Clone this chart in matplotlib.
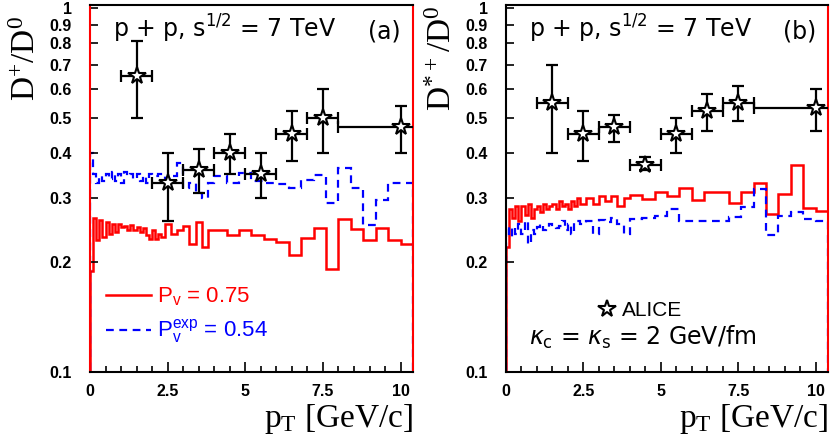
import numpy as np
import matplotlib
matplotlib.use('Agg')
import matplotlib.pyplot as plt
from matplotlib.ticker import FixedLocator, NullLocator, MultipleLocator
from matplotlib.lines import Line2D

plt.rcParams['font.family'] = ['Liberation Sans', 'DejaVu Sans']
plt.rcParams['mathtext.default'] = 'regular'

# histogram bin edges (GeV/c): fine at low pT, coarser above
edges = np.round(np.concatenate([np.arange(0, 2.4, 0.1),
                                 np.arange(2.4, 4.0, 0.2),
                                 np.arange(4.0, 10.45, 0.4)]), 2)

# model curves, D+/D0
dplus_pv = [0.19, 0.265, 0.23, 0.262, 0.235, 0.258, 0.24, 0.255, 0.242, 0.255, 0.25, 0.252,
            0.245, 0.253, 0.245, 0.25, 0.243, 0.248, 0.238, 0.232, 0.245, 0.232, 0.24, 0.235,
            0.255, 0.24, 0.245, 0.252, 0.225, 0.258, 0.22, 0.245,
            0.2455, 0.238, 0.2455, 0.238, 0.232, 0.228, 0.21, 0.233, 0.248, 0.192, 0.263, 0.247,
            0.2305, 0.248, 0.2305, 0.2245]
dplus_pvexp = [0.40, 0.35, 0.33, 0.345, 0.335, 0.35, 0.34, 0.355, 0.335, 0.35, 0.33, 0.355,
               0.345, 0.35, 0.34, 0.35, 0.335, 0.345, 0.33, 0.35, 0.345, 0.345, 0.35, 0.35,
               0.34, 0.345, 0.375, 0.32, 0.33, 0.31, 0.30, 0.33,
               0.3455, 0.33, 0.3515, 0.335, 0.33, 0.328, 0.32, 0.337, 0.348, 0.2906, 0.3627, 0.32,
               0.2535, 0.297, 0.33, 0.33]

# model curves, D*+/D0
dstar_pv = [0.22, 0.28, 0.265, 0.285, 0.26, 0.285, 0.27, 0.29, 0.265, 0.28, 0.285, 0.275,
            0.29, 0.28, 0.285, 0.29, 0.28, 0.295, 0.285, 0.29, 0.28, 0.295, 0.285, 0.30,
            0.29, 0.30, 0.29, 0.305, 0.295, 0.305, 0.285, 0.30,
            0.306, 0.298, 0.3116, 0.305, 0.3196, 0.297, 0.3116, 0.3116, 0.292, 0.313, 0.331, 0.272,
            0.308, 0.370, 0.2817, 0.2775]
dstar_pvexp = [0.25, 0.235, 0.25, 0.24, 0.255, 0.24, 0.26, 0.225, 0.245, 0.24, 0.25, 0.255,
               0.245, 0.25, 0.255, 0.25, 0.248, 0.252, 0.26, 0.245, 0.255, 0.24, 0.258, 0.26,
               0.255, 0.26, 0.24, 0.262, 0.258, 0.265, 0.255, 0.24,
               0.264, 0.265, 0.2687, 0.280, 0.26, 0.2595, 0.2595, 0.2595, 0.267, 0.2835, 0.3176, 0.238,
               0.2685, 0.2757, 0.263, 0.2597]

# ALICE data
alice_x = [1.5, 2.5, 3.5, 4.5, 5.5, 6.5, 7.5, 10.0]
alice_xerr = [0.5, 0.5, 0.5, 0.5, 0.5, 0.5, 0.5, 2.0]
dplus_y = [0.65, 0.33, 0.36, 0.40, 0.35, 0.45, 0.50, 0.47]
dplus_lo = [0.50, 0.26, 0.31, 0.35, 0.30, 0.38, 0.40, 0.40]
dplus_hi = [0.81, 0.40, 0.41, 0.45, 0.40, 0.52, 0.60, 0.54]
dstar_y = [0.55, 0.45, 0.47, 0.37, 0.45, 0.52, 0.55, 0.53]
dstar_lo = [0.40, 0.38, 0.43, 0.36, 0.40, 0.46, 0.49, 0.46]
dstar_hi = [0.70, 0.52, 0.51, 0.39, 0.50, 0.58, 0.61, 0.60]

yticks = [0.1, 0.2, 0.3, 0.4, 0.5, 0.6, 0.7, 0.8, 0.9, 1.0]
ytick_labels = ['0.1', '0.2', '0.3', '0.4', '0.5', '0.6', '0.7', '0.8', '0.9', '1']
xticks = [0, 2.5, 5, 7.5, 10]
xtick_labels = ['0', '2.5', '5', '7.5', '10']

fig = plt.figure(figsize=(8.3, 4.36), dpi=100)
ax1 = fig.add_axes([0.1084, 0.1468, 0.3892, 0.8417])
ax2 = fig.add_axes([0.6096, 0.1468, 0.388, 0.8417])

panels = [
    (ax1, dplus_pv, dplus_pvexp, dplus_y, dplus_lo, dplus_hi, r'D$^{+}$/D$^{0}$', '(a)'),
    (ax2, dstar_pv, dstar_pvexp, dstar_y, dstar_lo, dstar_hi, r'D$^{*+}$/D$^{0}$', '(b)'),
]

for ax, red, blue, y, lo, hi, ylab, tag in panels:
    ax.stairs(red, edges, color='#ff0000', lw=1.8, label=r'P$_{v}$ = 0.75')
    ax.stairs(blue, edges, color='#0000ff', lw=1.6, ls=(0, (3.5, 2.5)),
              label=r'P$_{v}^{exp}$ = 0.54')
    yerr = [np.array(y) - np.array(lo), np.array(hi) - np.array(y)]
    ax.errorbar(alice_x, y, xerr=alice_xerr, yerr=yerr, fmt='none', ecolor='k',
                elinewidth=1.6, capsize=4, capthick=1.6, zorder=4)
    ax.plot(alice_x, y, ls='none', marker='*', ms=13, mfc='white', mec='k', mew=1.5, zorder=5)

    ax.set_yscale('log')
    ax.set_xlim(0, 10.4)
    ax.set_ylim(0.1, 1.02)
    ax.yaxis.set_major_locator(FixedLocator(yticks))
    ax.yaxis.set_minor_locator(NullLocator())
    ax.set_yticklabels(ytick_labels)
    ax.set_xticks(xticks)
    ax.set_xticklabels(xtick_labels)
    ax.xaxis.set_minor_locator(MultipleLocator(0.5))
    ax.tick_params(which='both', direction='in', top=False, right=False, width=1.2)
    ax.tick_params(which='major', length=7, labelsize=11.5, pad=9)
    ax.tick_params(axis='y', which='major', length=6, pad=13)
    ax.tick_params(which='minor', length=4)
    for lab in ax.get_xticklabels() + ax.get_yticklabels():
        lab.set_fontweight('bold')
    for s in ax.spines.values():
        s.set_linewidth(1.5)

    ax.set_ylabel(ylab, fontfamily='Liberation Serif', fontsize=24)
    ax.yaxis.set_label_coords(-0.15, 0.855)
    ax.set_xlabel(r'p$_{T}$ [GeV/c]', fontfamily='Liberation Serif', fontsize=24,
                  loc='right', labelpad=2)

    ax.text(0.07, 0.91, r'p + p, s$^{1/2}$ = 7 TeV', transform=ax.transAxes,
            fontsize=17, fontfamily='DejaVu Sans')
    ax.text(0.86, 0.91, tag, transform=ax.transAxes, fontsize=17, fontfamily='DejaVu Sans')

# edges of the panels are overdrawn by the model lines
ax1.spines['left'].set_color('#ff0000')
ax1.spines['right'].set_color('#ff0000')
ax2.spines['right'].set_color('#ff0000')

ax1.legend(loc='lower left', bbox_to_anchor=(-0.012, 0.015), frameon=False,
           fontsize=16, handlelength=2.0, handletextpad=0.3, labelspacing=0.45,
           labelcolor='linecolor')

star = Line2D([], [], ls='none', marker='*', ms=13, mfc='white', mec='k', mew=1.5)
ax2.legend([star], ['ALICE'], loc='lower left', bbox_to_anchor=(0.23, 0.09),
           frameon=False, fontsize=15, handlelength=0.8, handletextpad=0.3)
ax2.text(0.07, 0.075, r'$\mathit{\kappa}_{c}$ = $\mathit{\kappa}_{s}$ = 2 GeV/fm',
         transform=ax2.transAxes, fontsize=17, fontfamily='DejaVu Sans')

fig.savefig('out.png', dpi=100)
